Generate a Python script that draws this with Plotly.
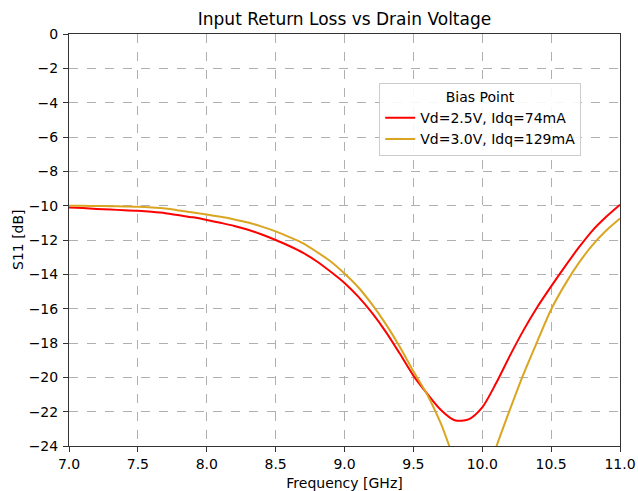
import plotly.graph_objects as go

freq = [round(7.0 + 0.1 * i, 1) for i in range(41)]
s11_red = [-10.10, -10.14, -10.19, -10.23, -10.26, -10.30, -10.36, -10.44, -10.56, -10.68,
           -10.83, -11.00, -11.18, -11.40, -11.68, -12.00, -12.35, -12.75, -13.25, -13.85,
           -14.50, -15.30, -16.25, -17.35, -18.60, -19.90, -20.95, -21.90, -22.50, -22.45,
           -21.75, -20.35, -18.75, -17.25, -15.90, -14.70, -13.55, -12.45, -11.45, -10.65,
           -9.95]
s11_gold = [-10.00, -10.01, -10.02, -10.03, -10.05, -10.07, -10.11, -10.17, -10.28, -10.40,
            -10.52, -10.65, -10.80, -10.98, -11.22, -11.50, -11.83, -12.20, -12.70, -13.25,
            -13.95, -14.75, -15.75, -16.90, -18.20, -19.65, -21.00, -22.70, -24.80, -26.30,
            -26.60, -24.10, -21.90, -19.80, -17.90, -16.05, -14.60, -13.35, -12.30, -11.45,
            -10.75]

names = ["Vd=2.5V, Idq=74mA", "Vd=3.0V, Idq=129mA"]
x_ticks = [7.0, 7.5, 8.0, 8.5, 9.0, 9.5, 10.0, 10.5, 11.0]
y_ticks = list(range(-24, 1, 2))

fig = go.Figure()
fig.add_trace(go.Scatter(x=freq, y=s11_red, mode="lines", name=names[0],
                         line=dict(color="#ff0000", width=2, shape="spline", smoothing=0.8)))
fig.add_trace(go.Scatter(x=freq, y=s11_gold, mode="lines", name=names[1],
                         line=dict(color="#daa520", width=2, shape="spline", smoothing=0.8)))

axis_common = dict(showline=True, linecolor="#333333", linewidth=1, mirror=True,
                   ticks="outside", ticklen=5, tickcolor="#333333", automargin=False,
                   showgrid=True, gridcolor="#b0b0b0", griddash="dash", gridwidth=1,
                   zeroline=False, tickfont=dict(size=14, color="black"))

fig.update_layout(
    width=638, height=491,
    margin=dict(l=69, r=18, t=34, b=45),
    paper_bgcolor="white", plot_bgcolor="white",
    font=dict(family="DejaVu Sans", color="black"),
    title=dict(text="Input Return Loss vs Drain Voltage", xref="paper", x=0.5, xanchor="center",
               y=1 - 19 / 491, yanchor="middle", font=dict(size=17)),
    xaxis=dict(range=[7.0, 11.0], tickvals=x_ticks, tickformat=".1f",
               title=dict(text="Frequency [GHz]", font=dict(size=14)), **axis_common),
    yaxis=dict(range=[-24, 0], tickvals=y_ticks, ticklabelstandoff=2, **axis_common),
    legend=dict(x=0.563, y=0.881, xanchor="left", yanchor="top", itemwidth=30,
                bgcolor="rgba(255,255,255,0.9)", bordercolor="#cccccc", borderwidth=1,
                font=dict(size=14),
                title=dict(text="Bias Point", side="top center", font=dict(size=14))),
    annotations=[dict(text="S11 [dB]", xref="paper", yref="paper", x=(18 - 69) / 551, y=0.5,
                      xanchor="center", yanchor="middle", textangle=-90, showarrow=False,
                      font=dict(size=14))],
)

fig.write_html("out.html")
